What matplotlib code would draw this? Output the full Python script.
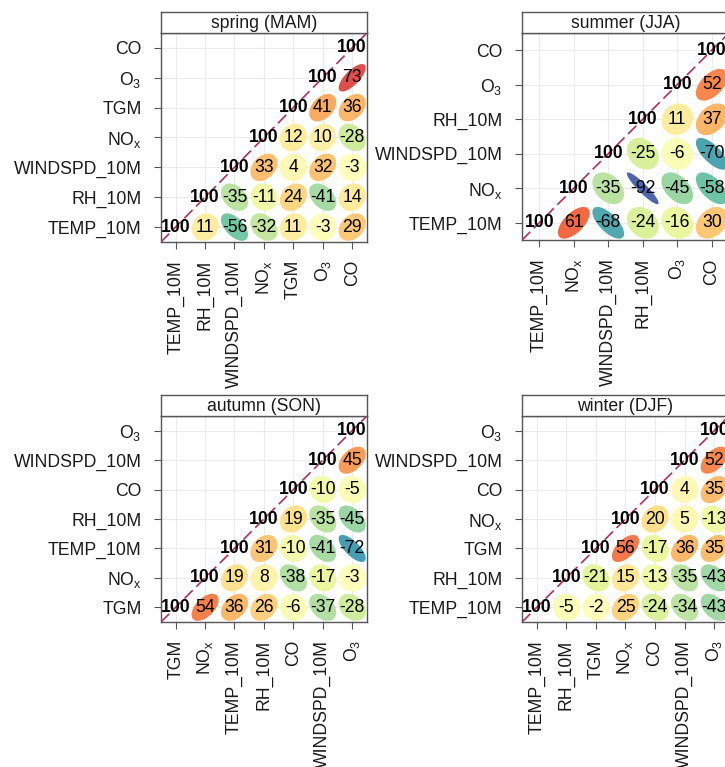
import numpy as np
import matplotlib
matplotlib.use('Agg')
import matplotlib.pyplot as plt
from matplotlib.colors import LinearSegmentedColormap, Normalize
from matplotlib.patches import Polygon

plt.rcParams['font.family'] = ['Liberation Sans', 'DejaVu Sans']
plt.rcParams['mathtext.fontset'] = 'custom'
plt.rcParams['mathtext.rm'] = 'Liberation Sans'
plt.rcParams['mathtext.it'] = 'Liberation Sans:italic'
plt.rcParams['mathtext.default'] = 'regular'

# variable order (bottom -> top / left -> right) and upper triangle rows, r x 100
spring_title = 'spring (MAM)'
spring_vars = ['TEMP_10M', 'RH_10M', 'WINDSPD_10M', 'NOx', 'TGM', 'O3', 'CO']
spring_rows = [[100, 11, -56, -32, 11, -3, 29],
               [100, -35, -11, 24, -41, 14],
               [100, 33, 4, 32, -3],
               [100, 12, 10, -28],
               [100, 41, 36],
               [100, 73],
               [100]]

summer_title = 'summer (JJA)'
summer_vars = ['TEMP_10M', 'NOx', 'WINDSPD_10M', 'RH_10M', 'O3', 'CO']
summer_rows = [[100, 61, -68, -24, -16, 30],
               [100, -35, -92, -45, -58],
               [100, -25, -6, -70],
               [100, 11, 37],
               [100, 52],
               [100]]

autumn_title = 'autumn (SON)'
autumn_vars = ['TGM', 'NOx', 'TEMP_10M', 'RH_10M', 'CO', 'WINDSPD_10M', 'O3']
autumn_rows = [[100, 54, 36, 26, -6, -37, -28],
               [100, 19, 8, -38, -17, -3],
               [100, 31, -10, -41, -72],
               [100, 19, -35, -45],
               [100, -10, -5],
               [100, 45],
               [100]]

winter_title = 'winter (DJF)'
winter_vars = ['TEMP_10M', 'RH_10M', 'TGM', 'NOx', 'CO', 'WINDSPD_10M', 'O3']
winter_rows = [[100, -5, -2, 25, -24, -34, -43],
               [100, -21, 15, -13, -35, -43],
               [100, 56, -17, 36, 35],
               [100, 20, 5, -13],
               [100, 4, 35],
               [100, 52],
               [100]]

nice = {'O3': 'O$_3$', 'NOx': 'NO$_x$'}

spectral = ['#9E0142', '#D53E4F', '#F46D43', '#FDAE61', '#FEE08B', '#FFFFBF',
            '#E6F598', '#ABDDA4', '#66C2A5', '#3288BD', '#5E4FA2'][::-1]
cmap = LinearSegmentedColormap.from_list('openair', spectral)
norm = Normalize(-1, 1)

fig = plt.figure(figsize=(7.25, 7.67), dpi=100)

# panel boxes [left, bottom, width, height] in figure fraction
boxes = [[0.222, 0.6845, 0.284, 0.2725],
         [0.720, 0.6870, 0.2855, 0.270],
         [0.222, 0.1890, 0.284, 0.2686],
         [0.720, 0.1890, 0.2855, 0.2686]]
strip_h = 0.0274

panels = [(spring_title, spring_vars, spring_rows),
          (summer_title, summer_vars, summer_rows),
          (autumn_title, autumn_vars, autumn_rows),
          (winter_title, winter_vars, winter_rows)]

R = 0.46
a = np.linspace(0, 2 * np.pi, 60)

for (title, names, rows), box in zip(panels, boxes):
    n = len(names)
    ax = fig.add_axes(box)
    ax.set_xlim(0.5, n + 0.5)
    ax.set_ylim(0.5, n + 0.5)
    ax.set_xticks(range(1, n + 1))
    ax.set_yticks(range(1, n + 1))
    labs = [nice.get(v, v) for v in names]
    ax.set_xticklabels(labs, rotation=90)
    ax.set_yticklabels(labs)
    ax.tick_params(direction='out', length=5, width=0.8, color='#555555',
                   labelsize=12.7, labelcolor='#1a1a1a')
    ax.tick_params(axis='y', pad=9)
    ax.tick_params(axis='x', pad=8)
    ax.grid(color='#ebebeb', lw=0.8)
    ax.set_axisbelow(True)
    for s in ax.spines.values():
        s.set_color('#555555')
        s.set_linewidth(1.0)

    for i, row in enumerate(rows):
        for k, val in enumerate(row):
            j = i + k
            cx, cy = j + 1, i + 1
            r = val / 100.0
            if j != i:
                d = np.arccos(r)
                ex = cx + R * np.cos(a + d / 2)
                ey = cy + R * np.cos(a - d / 2)
                ax.add_patch(Polygon(np.column_stack([ex, ey]), closed=True,
                                     facecolor=cmap(norm(r)), edgecolor='none',
                                     zorder=2))
                ax.text(cx, cy, str(val), ha='center', va='center',
                        fontsize=12.7, color='black', zorder=4)
            else:
                ax.text(cx, cy, str(val), ha='center', va='center',
                        fontsize=12.7, fontweight='bold', color='black', zorder=4)

    ax.plot([0.5, n + 0.5], [0.5, n + 0.5], color='#B03060', lw=1.2,
            dashes=(7, 3), zorder=3)

    sax = fig.add_axes([box[0], box[1] + box[3], box[2], strip_h])
    sax.set_xticks([])
    sax.set_yticks([])
    for s in sax.spines.values():
        s.set_color('#555555')
        s.set_linewidth(1.0)
    sax.text(0.5, 0.45, title, ha='center', va='center', fontsize=12.7,
             color='#1a1a1a', transform=sax.transAxes)

fig.savefig('out.png', dpi=100)
